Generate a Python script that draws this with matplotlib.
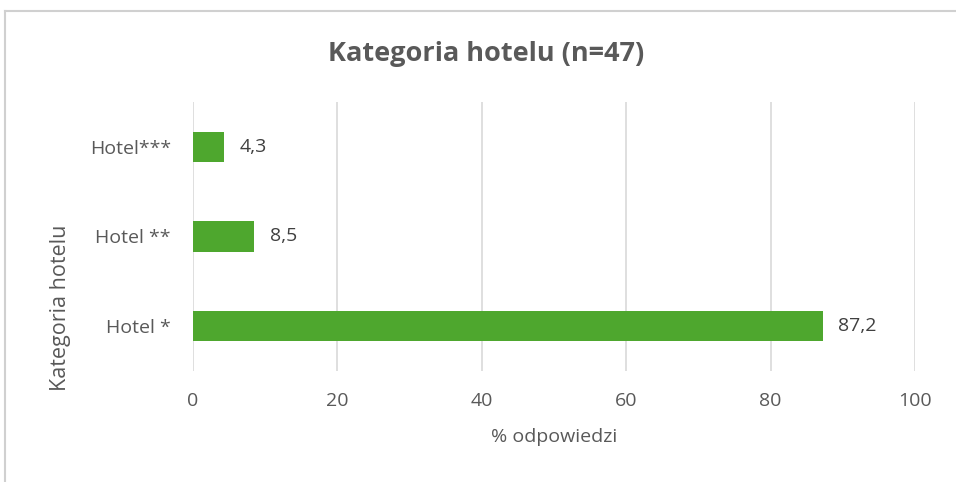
import matplotlib
matplotlib.use("Agg")
import matplotlib.pyplot as plt
from matplotlib.lines import Line2D

# data
categories = ["Hotel *", "Hotel **", "Hotel***"]
values = [87.2, 8.5, 4.3]
value_labels = ["87,2", "8,5", "4,3"]
x_ticks = [0, 20, 40, 60, 80, 100]

green = "#4EA72E"
txt = "#595959"
grid = "#D9D9D9"

plt.rcParams["font.family"] = ["Open Sans", "DejaVu Sans"]

fig = plt.figure(figsize=(9.56, 4.82), dpi=100)
ax = fig.add_axes([0.2019, 0.2303, 0.7553, 0.5581])

ypos = range(len(categories))
ax.barh(ypos, values, height=0.34, color=green, zorder=3)
for y, v, lab in zip(ypos, values, value_labels):
    ax.annotate(lab, (v, y), xytext=(11, 0), textcoords="offset points",
                va="center", ha="left", fontsize=14, color="#404040")

ax.set_xlim(0, 100)
ax.set_ylim(-0.5, 2.5)
ax.set_xticks(x_ticks)
ax.set_yticks(list(ypos))
ax.set_yticklabels(categories)
ax.tick_params(axis="both", length=0, labelsize=14, labelcolor=txt)
ax.tick_params(axis="x", pad=15)
ax.tick_params(axis="y", pad=16)
ax.grid(axis="x", color=grid, linewidth=1.2, zorder=0)
for s in ax.spines.values():
    s.set_visible(False)

ax.set_xlabel("% odpowiedzi", fontsize=14, color=txt, labelpad=13)
fig.text(0.063, 0.361, "Kategoria hotelu", rotation=90, fontsize=15.5,
         color=txt, ha="center", va="center")
fig.text(0.508, 0.888, "Kategoria hotelu (n=47)", fontsize=19.5, fontweight="bold",
         color=txt, ha="center", va="center")

# chart frame
fig.add_artist(Line2D([0.005, 1.0], [0.978, 0.978], color="#D0D0D0", lw=1.5))
fig.add_artist(Line2D([0.005, 0.005], [0.0, 0.978], color="#D0D0D0", lw=1.5))

fig.savefig("out.png", dpi=100)
